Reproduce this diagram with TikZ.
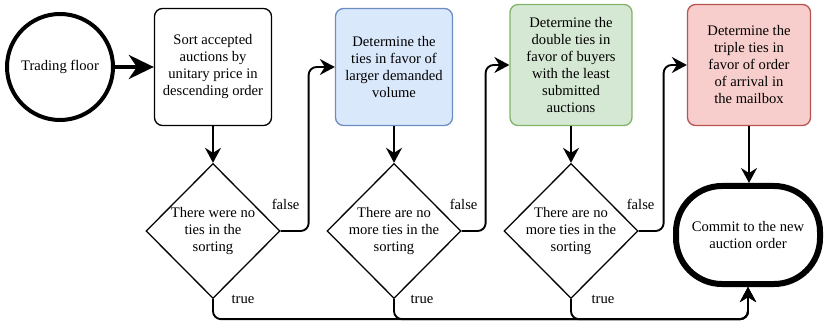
\documentclass[tikz,border=0pt]{standalone}
\usepackage{fontspec}
\setmainfont{Liberation Serif}
\usetikzlibrary{shapes.geometric,arrows.meta}

\definecolor{bluefill}{HTML}{DAE8FC}
\definecolor{bluedraw}{HTML}{6C8EBF}
\definecolor{greenfill}{HTML}{D5E8D4}
\definecolor{greendraw}{HTML}{82B366}
\definecolor{redfill}{HTML}{F8CECC}
\definecolor{reddraw}{HTML}{B85450}

\begin{document}
\begin{tikzpicture}[x=1pt,y=-1pt,
  every node/.style={font=\fontsize{14.6}{17}\selectfont, align=center},
  stepbox/.style={draw, rectangle, rounded corners=8pt, line width=1.3pt,
    minimum width=117pt, minimum height=117pt},
  test/.style={draw, diamond, line width=1.3pt, inner sep=-5pt,
    minimum width=134pt, minimum height=135pt},
  flow/.style={line width=1.9pt, rounded corners=8pt,
    -{Stealth[length=15pt,width=16pt,inset=5pt]}},
  lbl/.style={inner sep=0pt}]

  \useasboundingbox (0,0) rectangle (824,323);

  % start and steps
  \node [draw, circle, line width=4pt, minimum size=106pt] (floor) at (60,67) {Trading floor};
  \node [stepbox] (sort) at (213,67) {Sort accepted\\auctions by\\unitary price in\\descending order};
  \node [stepbox, fill=bluefill, draw=bluedraw] (larger) at (394,67) {Determine the\\ties in favor of\\larger demanded\\volume};
  \node [stepbox, fill=greenfill, draw=greendraw, minimum width=122pt, minimum height=121pt] (double) at (571,65) {Determine the\\double ties in\\favor of buyers\\with the least\\submitted\\auctions};
  \node [stepbox, fill=redfill, draw=reddraw, minimum width=123pt, minimum height=121pt] (triple) at (749,65) {Determine the\\triple ties in\\favor of order\\of arrival in\\the mailbox};

  % tests
  \node [test] (nosort) at (213,231) {There were no\\ties in the\\sorting};
  \node [test] (nolarger) at (394,231) {There are no\\more ties in the\\sorting};
  \node [test] (nodouble) at (571,231) {There are no\\more ties in the\\sorting};

  % end
  \node [draw, rectangle, rounded corners=46pt, line width=6pt, minimum width=144pt, minimum height=98pt] (commit) at (748,235) {Commit to the new\\auction order};

  \draw [line width=4pt, -{Stealth[length=25pt,width=24pt,inset=8pt]}] (floor) -- (sort);
  \draw [flow] (sort) -- (nosort);
  \draw [flow] (larger) -- (nolarger);
  \draw [flow] (double) -- (nodouble);
  \draw [flow] (triple.south) -- (commit.north -| triple.south);

  \draw [flow] (nosort.east) node[lbl, xshift=5pt, yshift=27pt] {false} -- ++(28,0) |- (larger.west);
  \draw [flow] (nolarger.east) node[lbl, xshift=2pt, yshift=27pt] {false} -- ++(24,0) |- (double.west);
  \draw [flow] (nodouble.east) node[lbl, xshift=2pt, yshift=27pt] {false} -- ++(25,0) |- (triple.west);

  \draw [flow] (nosort.south) node[lbl, xshift=30pt] {true} -- ++(0,20) -| (commit.south);
  \draw [flow] (nolarger.south) node[lbl, xshift=28pt] {true} -- ++(0,20) -| (commit.south);
  \draw [flow] (nodouble.south) node[lbl, xshift=32pt] {true} -- ++(0,20) -| (commit.south);

\end{tikzpicture}
\end{document}
